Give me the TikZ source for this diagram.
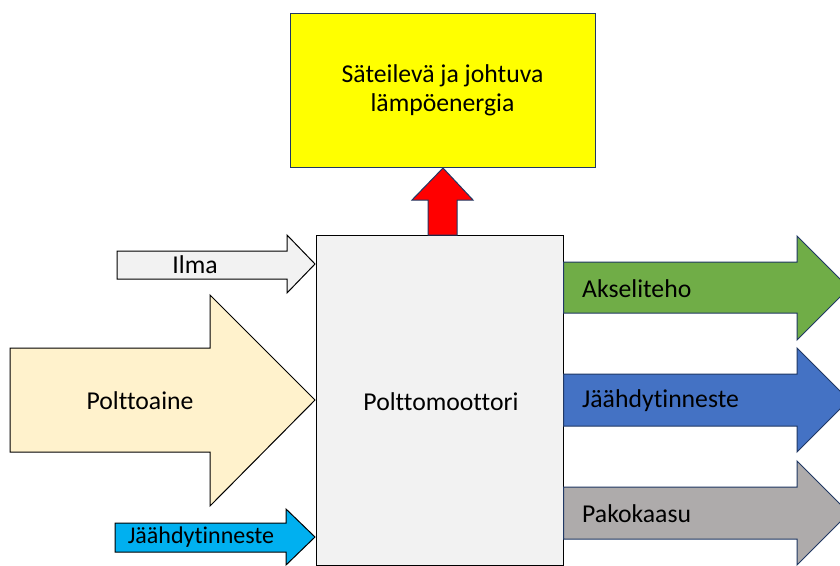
\documentclass[tikz,border=0pt]{standalone}
\usepackage{fontspec}
\setmainfont[Ligatures=CommonOff]{Carlito}
\definecolor{boxgray}{HTML}{F2F2F2}
\definecolor{heatyellow}{HTML}{FFFF00}
\definecolor{heatred}{HTML}{FF0000}
\definecolor{fuel}{HTML}{FFF2CC}
\definecolor{coolin}{HTML}{00B0F0}
\definecolor{shaft}{HTML}{70AD47}
\definecolor{coolout}{HTML}{4472C4}
\definecolor{exhaust}{HTML}{AEABAB}
\definecolor{navy}{HTML}{203864}
\tikzset{
  inarrow/.style={draw=black, line width=1pt, line join=miter},
  outarrow/.style={draw=navy, line width=1pt, line join=miter},
  lbl/.style={font=\fontsize{25.7}{30}\selectfont, inner sep=0pt},
  smalllbl/.style={font=\fontsize{24}{29}\selectfont, inner sep=0pt},
}
\begin{document}
\begin{tikzpicture}[x=1pt,y=-1pt]
\clip (0,0) rectangle (840,565);
\fill[white] (0,0) rectangle (840,565);
% boxes
\node[draw=navy, line width=1pt, fill=heatyellow, minimum width=305pt, minimum height=154pt,
  align=center, lbl] (heat) at (442.5,90) {Säteilevä ja johtuva\\[-1pt]lämpöenergia};
\node[draw=black, line width=1pt, fill=boxgray, minimum width=247pt, minimum height=330pt,
  lbl] (motor) at (439.5,400) {};
\node[lbl] (motorlbl) at (441,402) {Polttomoottori};
% red arrow up
\draw[outarrow, fill=heatred] (428,235) -- (428,200) -- (412,200) -- (443,168)
  -- (473,200) -- (457,200) -- (457,235) -- cycle;
% inputs
\draw[inarrow, fill=boxgray] (117,251) -- (287,251) -- (287,235) -- (315,264)
  -- (287,293) -- (287,279) -- (117,279) -- cycle;
\node[lbl] (ilma) at (195,265) {Ilma};
\draw[inarrow, fill=fuel] (10,348) -- (210,348) -- (210,295) -- (315,400)
  -- (210,506) -- (210,452) -- (10,452) -- cycle;
\node[lbl] (fuellbl) at (140,401) {Polttoaine};
\draw[inarrow, fill=coolin] (115,523) -- (286,523) -- (286,509) -- (315,537)
  -- (286,565) -- (286,552) -- (115,552) -- cycle;
\node[smalllbl] (coolinlbl) at (201,537) {Jäähdytinneste};
% outputs
\draw[outarrow, fill=shaft] (motor.east |- 0,262) -- (797,262) -- (797,236) -- (849,288)
  -- (797,340) -- (797,313) -- (motor.east |- 0,313) -- cycle;
\node[lbl, anchor=west] (shaftlbl) at (582,289) {Akseliteho};
\draw[outarrow, fill=coolout] (motor.east |- 0,374) -- (797,374) -- (797,348) -- (849,400)
  -- (797,452) -- (797,426) -- (motor.east |- 0,426) -- cycle;
\node[lbl, anchor=west] (cooloutlbl) at (582,401) {Jäähdytinneste};
\draw[outarrow, fill=exhaust] (motor.east |- 0,487) -- (797,487) -- (797,461) -- (849,513)
  -- (797,565) -- (797,539) -- (motor.east |- 0,539) -- cycle;
\node[lbl, anchor=west] (exhaustlbl) at (582,514) {Pakokaasu};
\end{tikzpicture}
\end{document}
